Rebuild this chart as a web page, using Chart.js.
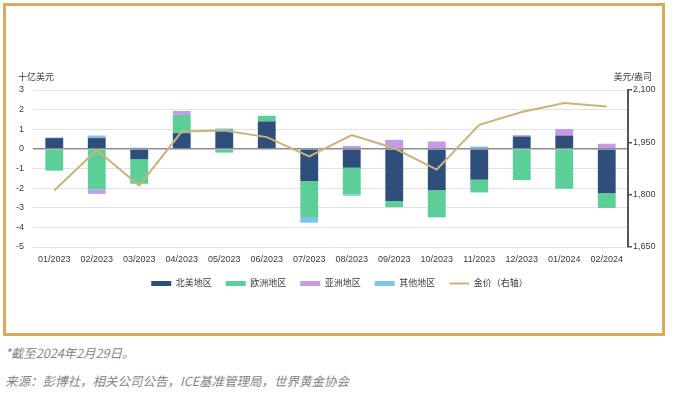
<!DOCTYPE html>
<html>
<head>
<meta charset="utf-8">
<script src="https://cdn.jsdelivr.net/npm/chart.js@4.4.1/dist/chart.umd.min.js"></script>
<style>
  html, body { margin: 0; padding: 0; background: #fff; }
  body { width: 675px; height: 393px; position: relative; overflow: hidden; }
  #chart { position: absolute; left: 0; top: 0; }
  #frame { position: absolute; left: 3px; top: 3px; width: 656px; height: 327px; border: 3px solid #d5ad5c; pointer-events: none; }
  .note { position: absolute; left: 5px; font: italic 12.5px 'Noto Sans CJK SC', sans-serif; color: #858585; white-space: nowrap; line-height: 16px; }
</style>
</head>
<body>
<canvas id="chart" width="675" height="340"></canvas>
<div id="frame"></div>
<div class="note" style="top:345px">*截至2024年2月29日。</div>
<div class="note" style="top:373px">来源：彭博社，相关公司公告，ICE基准管理局，世界黄金协会</div>
<script>
/* ── Data ── */

const months = ['01/2023', '02/2023', '03/2023', '04/2023', '05/2023', '06/2023', '07/2023',
                '08/2023', '09/2023', '10/2023', '11/2023', '12/2023', '01/2024', '02/2024'];

// 十亿美元
const northAmerica = [0.55, 0.55, -0.53, 0.80, 0.94, 1.40, -1.64, -0.96, -2.65, -2.10, -1.57, 0.63, 0.68, -2.26];
const europe       = [-1.11, -2.07, -1.25, 0.93, -0.19, 0.29, -1.83, -1.36, -0.32, -1.39, -0.65, -1.59, -2.03, -0.75];
const asia         = [0, -0.22, 0, 0.20, 0, 0, 0.05, 0.15, 0.46, 0.38, 0, 0.07, 0.33, 0.26];
const other        = [0.03, 0.13, 0.06, -0.05, 0.10, 0, -0.29, -0.07, 0, 0, 0.12, 0, 0, 0];

// 美元/盎司
const goldPrice    = [1812, 1928, 1826, 1981, 1984, 1965, 1910, 1971, 1933, 1872, 2000, 2037, 2063, 2053];

const leftTicks  = { min: -5, max: 3, step: 1 };
const rightTicks = { min: 1650, max: 2100, step: 150 };

const FONT = `'Liberation Sans', 'Noto Sans CJK SC', sans-serif`;
const TEXT = '#3a3a3a';

const axisTitles = {
    id: 'axisTitles',
    afterDraw(chart) {
        const { ctx, chartArea: { left, right, top } } = chart;
        ctx.save();
        ctx.font         = `9px ${FONT}`;
        ctx.fillStyle    = TEXT;
        ctx.textBaseline = 'middle';
        ctx.textAlign    = 'left';
        ctx.fillText('十亿美元', left - 15, top - 12);
        ctx.textAlign    = 'right';
        ctx.fillText('美元/盎司', right + 24, top - 12);
        ctx.restore();
    }
};

const bar = (label, data, color) => ({
    type: 'bar', label, data, backgroundColor: color, borderWidth: 0,
    barPercentage: 0.42, categoryPercentage: 1, order: 1,
});

new Chart(document.getElementById('chart').getContext('2d'), {
    plugins: [axisTitles],
    data: {
        labels: months,
        datasets: [
            bar('北美地区', northAmerica, '#2e4f7b'),
            bar('欧洲地区', europe,       '#5ccf99'),
            bar('亚洲地区', asia,         '#c49be8'),
            bar('其他地区', other,        '#80c3ea'),
            {
                type: 'line', label: '金价（右轴）', data: goldPrice, yAxisID: 'y1',
                borderColor: '#c9b37c', borderWidth: 2, pointRadius: 0, tension: 0, order: 0,
            },
        ]
    },
    options: {
        responsive: false,
        animation:  false,
        events:     [],
        layout: { padding: { top: 90, left: 4, right: 0, bottom: 42 } },
        plugins: {
            tooltip: { enabled: false },
            legend: {
                position: 'bottom',
                labels: {
                    usePointStyle: true, pointStyleWidth: 20, boxHeight: 5, padding: 14,
                    color: TEXT, font: { size: 9, family: FONT },
                    generateLabels(chart) {
                        return chart.data.datasets.map((ds, i) => {
                            const isLine = ds.type === 'line';
                            return {
                                text: ds.label, datasetIndex: i, hidden: false,
                                fillStyle:   isLine ? ds.borderColor : ds.backgroundColor,
                                strokeStyle: isLine ? ds.borderColor : ds.backgroundColor,
                                lineWidth:   isLine ? 2 : 0,
                                pointStyle:  isLine ? 'line' : 'rect',
                                fontColor:   TEXT,
                            };
                        });
                    }
                }
            }
        },
        scales: {
            x: {
                stacked: true,
                grid:   { display: false, drawTicks: false },
                border: { display: false },
                ticks:  { color: TEXT, font: { size: 9, family: FONT }, padding: 7, maxRotation: 0, autoSkip: false },
                afterFit(s) { s.height = 18; }
            },
            y: {
                stacked: true, position: 'left',
                min: leftTicks.min, max: leftTicks.max,
                ticks:  { stepSize: leftTicks.step, padding: 9, color: TEXT, font: { size: 9, family: FONT } },
                grid:   {
                    drawTicks: false,
                    color:     c => c.tick && c.tick.value === 0 ? '#8e8e8e' : '#e2e2e2',
                    lineWidth: c => c.tick && c.tick.value === 0 ? 1.5 : 1,
                },
                border: { display: false },
                afterFit(s) { s.width = 29; }
            },
            y1: {
                position: 'right',
                min: rightTicks.min, max: rightTicks.max,
                ticks:  {
                    stepSize: rightTicks.step, padding: 1, color: TEXT, font: { size: 9, family: FONT },
                    callback: v => v.toLocaleString('en-US'),
                },
                grid:   { drawOnChartArea: false, tickLength: 4, color: '#555', lineWidth: 1.5 },
                border: { display: true, color: '#555', width: 2 },
                afterFit(s) { s.width = 47; }
            }
        }
    }
});
</script>
</body>
</html>
